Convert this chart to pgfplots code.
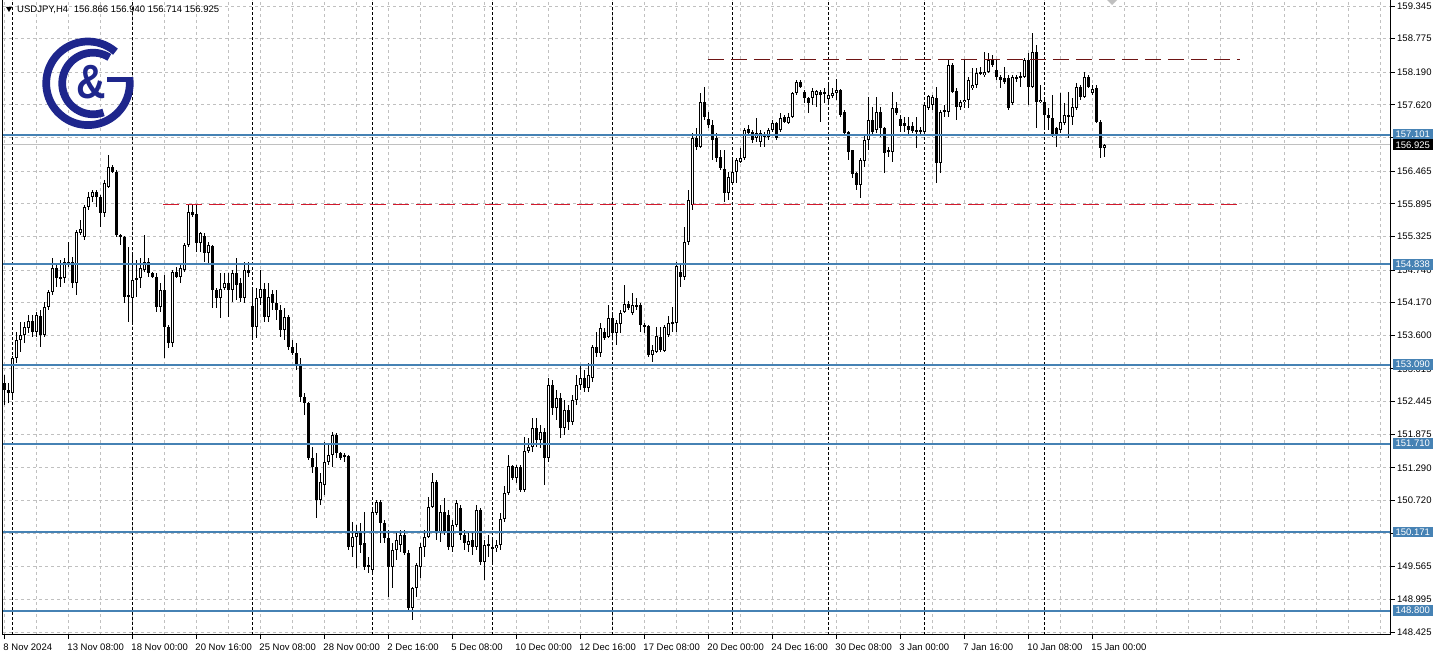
\documentclass[border=0pt]{standalone}
\usepackage{pgfplots}
\pgfplotsset{compat=1.18}
\usepackage{pgfplotstable}
\usepackage{fontspec}
\setmainfont{Liberation Sans}
\definecolor{lvl}{RGB}{70,130,180}
\definecolor{grd}{RGB}{192,192,192}
\definecolor{bidc}{RGB}{192,192,192}
\definecolor{crim}{RGB}{210,25,45}
\definecolor{marn}{RGB}{110,20,20}
\definecolor{logoc}{RGB}{30,38,140}
\newcommand\tf{\fontsize{9.5}{10}\selectfont}

\pgfplotstableread{
i o h l c
0 152.77 152.91 152.39 152.65
1 152.65 152.77 152.42 152.60
2 152.60 153.24 152.53 153.21
3 153.21 153.66 153.12 153.52
4 153.52 153.83 153.31 153.61
5 153.61 153.83 153.47 153.75
6 153.73 153.96 153.64 153.85
7 153.85 153.96 153.57 153.66
8 153.66 154.01 153.57 153.96
9 153.94 154.04 153.40 153.61
10 153.61 154.18 153.57 154.09
11 154.09 154.39 154.04 154.36
12 154.36 154.95 154.30 154.78
13 154.78 154.86 154.44 154.60
14 154.62 154.91 154.44 154.58
15 154.60 154.95 154.51 154.88
16 154.88 155.23 154.79 154.86
17 154.88 154.97 154.43 154.51
18 154.51 155.44 154.30 155.40
19 155.39 155.61 155.35 155.46
20 155.32 155.87 155.26 155.84
21 155.84 156.10 155.79 156.01
22 156.01 156.14 155.93 156.10
23 156.10 156.14 155.84 156.01
24 156.01 156.05 155.49 155.73
25 155.73 156.31 155.66 156.26
26 156.19 156.75 156.17 156.54
27 156.54 156.57 156.43 156.45
28 156.45 156.48 155.32 155.35
29 155.35 155.37 155.18 155.32
30 155.32 155.34 154.17 154.27
31 154.30 155.14 153.83 154.27
32 154.25 155.05 153.83 154.57
33 154.57 154.91 154.27 154.60
34 154.60 154.95 154.43 154.78
35 154.74 155.35 154.71 154.88
36 154.88 154.95 154.62 154.69
37 154.69 154.71 154.60 154.62
38 154.62 154.69 154.01 154.09
39 154.09 154.51 154.01 154.39
40 154.39 154.65 153.21 153.75
41 153.75 153.78 153.38 153.47
42 153.47 154.74 153.40 154.71
43 154.71 154.79 154.60 154.62
44 154.62 154.83 154.51 154.78
45 154.74 155.21 154.71 155.18
46 155.18 155.87 155.14 155.75
47 155.75 155.87 155.66 155.70
48 155.72 155.87 155.05 155.21
49 155.21 155.40 155.05 155.39
50 155.33 155.39 154.88 155.04
51 155.04 155.23 154.86 155.18
52 155.16 155.18 154.08 154.39
53 154.39 154.43 154.08 154.25
54 154.25 154.69 153.90 154.41
55 154.43 154.69 154.39 154.51
56 154.51 154.69 153.92 154.39
57 154.39 154.74 154.18 154.69
58 154.69 154.95 154.22 154.48
59 154.51 154.60 154.18 154.25
60 154.25 154.88 154.17 154.74
61 154.74 154.88 154.62 154.69
62 154.11 154.39 153.57 153.75
63 153.75 154.43 153.55 154.25
64 154.25 154.74 154.13 154.41
65 154.41 154.51 153.83 153.92
66 153.92 154.51 153.83 154.27
67 154.32 154.39 154.04 154.17
68 154.17 154.39 153.87 154.04
69 154.04 154.13 153.57 153.69
70 153.69 154.08 153.52 153.92
71 153.92 153.96 153.35 153.40
72 153.40 153.52 153.26 153.29
73 153.29 153.47 152.99 153.08
74 153.07 153.21 152.44 152.53
75 152.53 152.60 152.21 152.42
76 152.42 152.44 151.43 151.46
77 151.46 151.65 151.20 151.30
78 151.30 151.55 150.41 150.73
79 150.73 151.20 150.64 151.04
80 150.99 151.74 150.81 151.39
81 151.39 151.72 151.34 151.51
82 151.51 151.91 151.30 151.86
83 151.86 151.90 151.46 151.55
84 151.55 151.57 151.43 151.46
85 151.48 151.55 151.39 151.51
86 151.50 151.51 149.86 149.91
87 149.91 150.34 149.73 150.08
88 150.08 150.29 149.54 150.15
89 150.15 150.33 149.80 149.94
90 149.98 150.52 149.51 149.56
91 149.59 149.73 149.45 149.56
92 149.51 150.55 149.42 150.52
93 150.50 150.73 150.47 150.69
94 150.69 150.73 149.98 150.33
95 150.33 150.38 149.98 150.07
96 150.07 150.21 149.04 149.56
97 149.56 149.98 149.19 149.86
98 149.86 150.17 149.68 150.03
99 149.94 150.21 149.82 150.12
100 150.12 150.21 149.77 149.80
101 149.80 149.86 148.81 148.84
102 148.84 149.21 148.63 149.19
103 149.19 149.63 149.04 149.59
104 149.56 149.98 149.37 149.91
105 149.91 150.21 149.73 150.08
106 150.08 150.78 150.07 150.61
107 150.61 151.20 150.59 151.04
108 151.04 151.08 150.03 150.15
109 150.15 150.64 150.00 150.52
110 150.52 150.76 150.12 150.15
111 150.47 150.55 149.86 149.91
112 149.91 150.38 149.82 150.29
113 150.29 150.73 150.26 150.68
114 150.59 150.64 150.03 150.12
115 150.12 150.21 149.86 149.98
116 149.94 150.17 149.82 150.01
117 150.03 150.15 149.77 149.91
118 149.91 150.64 149.86 150.55
119 150.55 150.59 149.59 149.65
120 149.65 150.03 149.33 149.94
121 149.93 150.12 149.73 149.96
122 149.91 150.08 149.63 149.87
123 149.89 150.03 149.82 149.94
124 149.94 150.50 149.86 150.40
125 150.40 150.97 150.34 150.85
126 150.85 151.51 150.81 151.32
127 151.32 151.34 151.08 151.11
128 151.11 151.34 151.02 151.30
129 151.30 151.34 150.87 150.90
130 150.90 151.83 150.87 151.58
131 151.58 151.81 151.55 151.65
132 151.65 152.16 151.57 151.98
133 151.98 152.16 151.65 151.77
134 151.77 152.04 151.63 151.91
135 151.91 151.98 150.99 151.46
136 151.46 152.86 151.39 152.73
137 152.73 152.82 152.21 152.33
138 152.33 152.65 152.12 152.51
139 152.51 152.60 151.81 151.98
140 151.98 152.47 151.86 152.30
141 152.30 152.38 151.95 152.09
142 152.09 152.56 152.04 152.47
143 152.47 152.91 152.38 152.73
144 152.73 153.08 152.65 152.86
145 152.86 152.99 152.61 152.68
146 152.68 153.12 152.61 152.91
147 152.86 153.43 152.79 153.40
148 153.40 153.66 153.22 153.29
149 153.29 153.82 153.22 153.73
150 153.66 153.73 153.52 153.55
151 153.57 154.13 153.55 153.90
152 153.90 153.96 153.57 153.64
153 153.64 153.87 153.43 153.82
154 153.80 154.04 153.64 153.99
155 154.01 154.48 153.99 154.15
156 154.15 154.20 154.04 154.08
157 153.99 154.34 153.96 154.13
158 154.13 154.25 154.04 154.09
159 154.13 154.17 153.66 153.78
160 153.78 153.82 153.64 153.75
161 153.77 153.78 153.22 153.26
162 153.26 153.43 153.14 153.35
163 153.31 153.75 153.29 153.59
164 153.57 153.75 153.31 153.35
165 153.33 153.78 153.31 153.75
166 153.61 153.94 153.57 153.82
167 153.83 154.09 153.66 153.82
168 153.82 154.88 153.66 154.81
169 154.71 154.83 154.44 154.62
170 154.62 155.49 154.57 155.23
171 155.23 156.14 155.18 155.96
172 155.87 157.13 155.79 157.04
173 157.04 157.22 156.83 156.89
174 156.89 157.83 156.87 157.67
175 157.67 157.93 157.36 157.41
176 157.37 157.50 157.22 157.27
177 157.27 157.36 156.66 157.01
178 157.04 157.13 156.62 156.69
179 156.71 156.83 156.48 156.52
180 156.50 156.83 155.93 156.08
181 156.08 156.45 155.96 156.36
182 156.26 156.66 156.22 156.45
183 156.45 156.69 156.26 156.66
184 156.62 156.87 156.61 156.69
185 156.69 157.22 156.66 157.18
186 157.20 157.27 157.09 157.13
187 157.15 157.18 156.96 157.01
188 157.04 157.39 156.97 157.13
189 156.97 157.18 156.89 157.13
190 157.06 157.15 156.89 157.09
191 157.06 157.22 157.01 157.18
192 157.18 157.36 157.15 157.30
193 157.30 157.32 157.01 157.04
194 157.18 157.48 157.15 157.39
195 157.41 157.44 157.30 157.32
196 157.30 157.48 157.28 157.41
197 157.41 157.84 157.39 157.83
198 157.83 158.05 157.79 158.02
199 158.02 158.05 157.91 157.93
200 157.84 157.88 157.65 157.74
201 157.74 157.76 157.48 157.65
202 157.74 157.91 157.62 157.86
203 157.79 157.88 157.58 157.86
204 157.84 157.88 157.32 157.79
205 157.81 157.91 157.65 157.84
206 157.72 157.98 157.65 157.79
207 157.78 157.91 157.74 157.83
208 157.83 158.07 157.71 157.88
209 157.88 157.90 157.41 157.44
210 157.50 157.53 157.09 157.13
211 157.15 157.16 156.66 156.80
212 156.83 156.84 156.35 156.41
213 156.43 156.45 156.14 156.22
214 156.22 156.69 155.99 156.66
215 156.64 157.09 156.54 157.01
216 157.01 157.76 156.83 157.36
217 157.36 157.58 157.09 157.15
218 157.18 157.76 157.13 157.50
219 157.50 157.58 157.06 157.22
220 157.22 157.24 156.43 156.78
221 156.80 156.89 156.71 156.83
222 156.80 157.84 156.62 157.57
223 157.57 157.67 157.44 157.48
224 157.37 157.44 157.15 157.25
225 157.30 157.41 157.15 157.25
226 157.25 157.41 157.09 157.18
227 157.25 157.32 157.13 157.16
228 157.18 157.41 156.87 157.15
229 157.18 157.24 157.09 157.15
230 157.15 157.65 157.13 157.62
231 157.57 157.79 157.53 157.78
232 157.62 157.79 157.53 157.76
233 157.74 157.93 156.26 156.61
234 156.61 157.53 156.43 157.50
235 157.50 157.62 157.41 157.53
236 157.50 158.42 157.41 158.32
237 158.32 158.35 157.83 157.84
238 157.86 157.91 157.36 157.58
239 157.58 157.71 157.53 157.67
240 157.67 158.42 157.57 157.71
241 157.71 158.11 157.57 158.05
242 157.91 158.26 157.88 157.97
243 157.97 158.26 157.91 158.18
244 158.18 158.28 158.14 158.19
245 158.14 158.54 158.11 158.19
246 158.19 158.53 158.18 158.40
247 158.40 158.49 158.28 158.32
248 158.23 158.40 158.05 158.11
249 158.11 158.14 157.91 158.05
250 158.09 158.28 157.98 158.02
251 158.09 158.14 157.53 157.57
252 157.65 158.14 157.62 158.11
253 158.08 158.14 158.02 158.11
254 158.09 158.19 157.93 158.12
255 158.11 158.44 158.09 158.40
256 158.40 158.53 157.62 157.93
257 157.93 158.87 157.91 158.54
258 158.54 158.66 157.22 157.67
259 157.67 157.97 157.65 157.71
260 157.67 157.71 157.24 157.44
261 157.44 157.57 157.18 157.39
262 157.39 157.79 157.06 157.09
263 157.22 157.24 156.89 157.09
264 157.18 157.83 157.13 157.32
265 157.30 157.65 157.27 157.44
266 157.44 157.84 157.04 157.41
267 157.41 157.74 157.27 157.58
268 157.57 158.00 157.53 157.93
269 157.93 157.97 157.71 157.76
270 157.76 158.19 157.74 158.11
271 158.11 158.14 157.91 157.93
272 157.83 157.97 157.79 157.90
273 157.91 157.97 157.30 157.32
274 157.32 157.36 156.69 156.87
275 156.866 156.940 156.714 156.925
}\bars

\begin{document}
\begin{tikzpicture}
\useasboundingbox (0,0) rectangle (1439pt,658pt);
\fill[white] (0,0) rectangle (1439pt,658pt);
\begin{axis}[
  at={(3pt,23pt)}, anchor=south west, scale only axis,
  width=1388pt, height=635pt,
  xmin=-0.325, xmax=346.675, ymin=148.373, ymax=159.450,
  clip=false,
  axis line style={draw=none},
  tick align=outside,
  xtick pos=bottom, ytick pos=right,
  major tick length=4pt, minor tick length=0pt,
  tick style={black, line width=0.8pt},
  ytick={148.425,148.995,149.565,150.150,150.720,151.290,151.875,152.445,153.015,153.600,154.170,154.740,155.325,155.895,156.465,157.050,157.620,158.190,158.775,159.345},
  yticklabels={148.425,148.995,149.565,{},150.720,151.290,151.875,152.445,153.015,153.600,154.170,154.740,155.325,155.895,156.465,{},157.620,158.190,158.775,159.345},
  yticklabel style={anchor=west, inner sep=0pt, xshift=2pt, font=\tf},
  xtick={0,16,...,272},
  xticklabels={8 Nov 2024,13 Nov 08:00,18 Nov 00:00,20 Nov 16:00,25 Nov 08:00,28 Nov 00:00,2 Dec 16:00,5 Dec 08:00,10 Dec 00:00,12 Dec 16:00,17 Dec 08:00,20 Dec 00:00,24 Dec 16:00,30 Dec 08:00,3 Jan 00:00,7 Jan 16:00,10 Jan 08:00,15 Jan 00:00},
  xticklabel style={anchor=north west, inner sep=0pt, yshift=-5pt, xshift=-1pt, font=\tf},
  minor xtick={8,24,...,344,288,304,320,336},
  xmajorgrids, xminorgrids, ymajorgrids,
  major grid style={grd, dash pattern=on 3pt off 3pt, line width=0.8pt},
  minor grid style={grd, dash pattern=on 3pt off 3pt, line width=0.8pt},
  extra x ticks={2,32,62,92,122,152,182,206,230,260},
  extra x tick labels={},
  extra x tick style={grid=major, major grid style={black, dash pattern=on 3pt off 2pt, line width=0.8pt}, major tick length=0pt},
  after end axis/.code={
    \draw[black, line width=1pt] (rel axis cs:0,1) -- (rel axis cs:0,0) -- (rel axis cs:1,0) -- (rel axis cs:1,1);
    \tikzset{lbl/.style={anchor=west, inner sep=0pt, minimum height=10.5pt, minimum width=40pt, text=white, font=\tf, xshift=1.5pt}}
    \node[lbl, fill=lvl] at (axis cs:346.675,157.101) {157.101};
    \node[lbl, fill=black] at (axis cs:346.675,156.925) {156.925};
    \node[lbl, fill=lvl] at (axis cs:346.675,154.838) {154.838};
    \node[lbl, fill=lvl] at (axis cs:346.675,153.090) {153.090};
    \node[lbl, fill=lvl] at (axis cs:346.675,151.710) {151.710};
    \node[lbl, fill=lvl] at (axis cs:346.675,150.171) {150.171};
    \node[lbl, fill=lvl] at (axis cs:346.675,148.800) {148.800};
  },
]
% bid line
\addplot[bidc, line width=1pt, forget plot] coordinates {(-0.325,156.925) (346.675,156.925)};
% wicks
\addplot[draw=none, mark=none, forget plot,
  error bars/.cd, y dir=both, y explicit, error mark=none,
  error bar style={draw=black, solid, line width=1pt}]
  table[x=i, y expr={(\thisrow{h}+\thisrow{l})/2}, y error expr={(\thisrow{h}-\thisrow{l})/2}] {\bars};
% bearish bodies
\addplot[draw=none, mark=none, forget plot,
  restrict expr to domain={\thisrow{o}-\thisrow{c}}{0.000001:100},
  error bars/.cd, y dir=both, y explicit, error mark=none,
  error bar style={draw=black, solid, line width=3pt}]
  table[x=i, y expr={(\thisrow{o}+\thisrow{c})/2}, y error expr={max((\thisrow{o}-\thisrow{c})/2,0.0087)}] {\bars};
% bullish bodies (outline)
\addplot[draw=none, mark=none, forget plot,
  restrict expr to domain={\thisrow{c}-\thisrow{o}}{0:100},
  error bars/.cd, y dir=both, y explicit, error mark=none,
  error bar style={draw=black, solid, line width=3pt}]
  table[x=i, y expr={(\thisrow{o}+\thisrow{c})/2}, y error expr={max((\thisrow{c}-\thisrow{o})/2,0.0087)}] {\bars};
% bullish bodies (hollow)
\addplot[draw=none, mark=none, forget plot,
  restrict expr to domain={\thisrow{c}-\thisrow{o}}{0.036:100},
  error bars/.cd, y dir=both, y explicit, error mark=none,
  error bar style={draw=white, solid, line width=1pt}]
  table[x=i, y expr={(\thisrow{o}+\thisrow{c})/2}, y error expr={(\thisrow{c}-\thisrow{o})/2-0.0174}] {\bars};
% horizontal levels
\addplot[lvl, line width=2pt, forget plot] coordinates {(-0.325,157.101) (346.675,157.101)};
\addplot[lvl, line width=2pt, forget plot] coordinates {(-0.325,154.838) (346.675,154.838)};
\addplot[lvl, line width=2pt, forget plot] coordinates {(-0.325,153.090) (346.675,153.090)};
\addplot[lvl, line width=2pt, forget plot] coordinates {(-0.325,151.710) (346.675,151.710)};
\addplot[lvl, line width=2pt, forget plot] coordinates {(-0.325,150.171) (346.675,150.171)};
\addplot[lvl, line width=2pt, forget plot] coordinates {(-0.325,148.800) (346.675,148.800)};
% dashed levels
\addplot[crim, line width=1pt, dash pattern=on 16pt off 7pt, forget plot] coordinates {(39.7,155.89) (308.9,155.89)};
\addplot[marn, line width=1pt, dash pattern=on 16pt off 7pt, forget plot] coordinates {(175.9,158.42) (308.9,158.42)};
\end{axis}
% header
\fill[black] (6pt,651pt) -- (12pt,651pt) -- (9pt,646pt) -- cycle;
\node[anchor=west, inner sep=0pt, font=\tf] at (17pt,648.5pt) {USDJPY,H4\hspace{0.6em}156.866 156.940 156.714 156.925};
\fill[gray!50] (1107pt,658pt) -- (1117pt,658pt) -- (1112pt,653pt) -- cycle;
% logo
\draw[logoc, line width=7.7pt] ([shift={(49:41.8pt)}]88pt,574.7pt) arc[start angle=49, end angle=368, radius=41.8pt];
\fill[logoc] (106.7pt,575.7pt) rectangle (131.5pt,581.3pt);
\draw[logoc, line width=7.7pt] ([shift={(58:30.8pt)}]93pt,574.5pt) arc[start angle=58, end angle=290, radius=30.8pt];
\node[logoc, inner sep=0pt, font=\fontsize{48}{48}\selectfont\bfseries, xscale=0.85] at (91pt,576pt) {\&};
\end{tikzpicture}
\end{document}
